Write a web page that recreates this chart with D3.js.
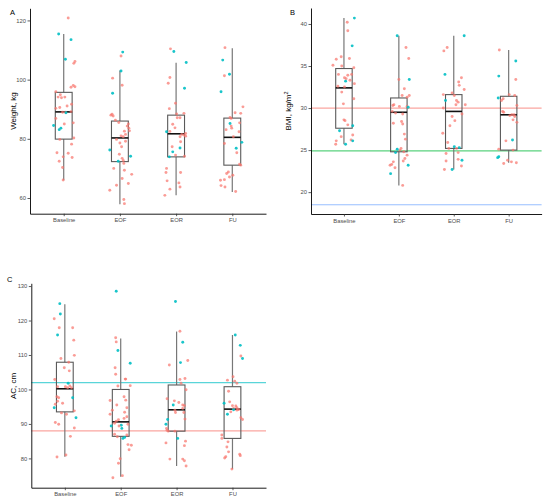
<!DOCTYPE html>
<html>
<head>
<meta charset="utf-8">
<script src="https://cdn.jsdelivr.net/npm/d3@7"></script>
<style>
  body { margin: 0; background: #fff; }
  text { font-family: "Liberation Sans", Arial, sans-serif; }
</style>
</head>
<body>
<div id="chart"></div>
<script>
// categories on the x axis (same for all three panels)
const categories = ["Baseline", "EOF", "EOR", "FU"];
const groupColors = ["#F8766D", "#00BFC4"];

// box stats per category: [lower whisker, q1, median, q3, upper whisker]
const weightBox = [[66.0, 79.9, 89.1, 95.7, 115.4], [57.9, 72.3, 80.3, 86.0, 103.1],
                   [60.9, 73.9, 81.7, 88.0, 105.7], [62.0, 71.1, 80.5, 87.0, 110.6]];
const bmiBox = [[25.7, 27.6, 32.4, 34.7, 40.7], [20.8, 24.8, 29.5, 31.2, 38.6],
                [22.7, 25.2, 29.6, 31.6, 38.6], [23.5, 25.0, 29.2, 31.4, 36.9]];
const acBox = [[80.5, 93.5, 100.2, 107.9, 124.7], [74.7, 86.4, 90.6, 100.0, 114.8],
               [77.8, 87.9, 94.1, 101.3, 116.8], [76.9, 85.8, 94.3, 100.8, 115.8]];

// jittered points: [category index, jitter (in category widths), value, group]
const weightPts = [
  [0,.08,120.8,0],[0,-.09,115.4,1],[0,.13,113.5,1],[0,.03,106.9,1],[0,.20,106.1,0],[0,.18,105.5,0],
  [0,.17,98.0,0],[0,.20,97.6,0],[0,.13,97.4,0],[0,-.14,95.9,0],[0,-.06,94.9,0],[0,-.10,94.1,0],
  [0,-.04,93.9,0],[0,.02,94.1,0],[0,.14,91.7,0],[0,.06,91.1,0],[0,-.14,90.3,0],[0,-.07,90.6,0],
  [0,-.02,89.0,0],[0,.03,89.0,0],[0,.04,88.8,1],[0,.13,89.2,0],[0,-.14,86.9,0],[0,.17,85.4,0],
  [0,-.18,84.5,1],[0,-.05,83.6,1],[0,-.08,83.1,1],[0,.01,85.0,0],[0,.18,80.3,0],[0,-.07,79.8,0],
  [0,.14,78.2,0],[0,-.12,75.3,0],[0,.08,75.1,0],[0,.15,73.7,0],[0,-.01,73.9,0],[0,-.08,72.4,0],
  [0,-.02,70.3,0],[0,-.01,66.1,0],
  [1,.05,109.3,1],[1,.02,108.0,0],[1,.02,102.9,1],[1,-.13,100.5,0],[1,.04,98.1,0],[1,-.13,95.4,1],
  [1,-.16,88.0,0],[1,-.14,88.3,0],[1,-.12,87.7,0],[1,-.08,86.3,0],[1,.15,85.0,0],[1,.13,84.3,0],
  [1,.16,83.6,0],[1,.08,82.6,0],[1,.17,82.7,0],[1,.02,81.0,0],[1,.06,80.7,0],[1,-.06,79.8,0],
  [1,.10,79.2,0],[1,.00,78.6,0],[1,.03,77.3,0],[1,-.18,76.2,1],[1,-.01,74.8,0],[1,.19,74.1,1],
  [1,.04,73.4,0],[1,.06,72.7,0],[1,-.03,72.4,1],[1,.07,71.7,0],[1,-.11,70.0,0],[1,.08,69.4,0],
  [1,.21,68.0,0],[1,.04,66.6,0],[1,.15,64.9,0],[1,-.06,64.3,0],[1,-.18,62.6,0],[1,.07,59.5,0],
  [1,.08,58.1,0],[1,-.02,85.5,0],[1,.10,81.5,0],
  [2,-.10,110.4,0],[2,-.04,109.5,1],[2,.18,105.8,1],[2,-.11,100.7,0],[2,-.14,98.8,0],[2,.15,97.1,1],
  [2,-.01,92.0,0],[2,-.12,90.2,0],[2,.01,88.4,0],[2,.07,87.1,0],[2,.02,87.1,0],[2,.14,88.6,0],
  [2,-.06,84.9,0],[2,-.02,83.7,0],[2,-.17,82.4,1],[2,-.11,82.5,0],[2,.10,81.5,0],[2,.14,81.3,0],
  [2,.17,81.8,0],[2,.17,80.9,0],[2,.07,80.7,0],[2,.08,79.0,0],[2,-.07,77.3,0],[2,.07,76.9,1],
  [2,-.06,75.6,1],[2,-.01,74.5,0],[2,-.12,73.9,1],[2,.15,74.1,0],[2,-.17,70.0,0],[2,-.18,68.6,0],
  [2,.08,68.6,0],[2,-.16,65.8,0],[2,.05,65.1,0],[2,.07,63.7,0],[2,-.11,63.0,0],[2,-.20,60.9,0],
  [3,-.13,110.8,0],[3,-.17,106.6,1],[3,-.14,101.3,0],[3,-.05,101.8,1],[3,-.20,95.9,1],[3,.19,90.8,0],
  [3,.05,88.8,0],[3,.15,88.6,0],[3,-.02,86.9,0],[3,-.04,87.2,0],[3,-.04,85.2,1],[3,.13,85.4,0],
  [3,-.02,84.3,0],[3,-.01,83.6,0],[3,-.11,83.1,0],[3,.12,82.4,0],[3,.02,80.7,0],[3,.17,78.8,1],
  [3,-.14,78.4,0],[3,.07,76.8,1],[3,.08,75.3,0],[3,.13,71.4,0],[3,.15,71.1,0],[3,-.07,68.8,0],
  [3,-.10,68.3,0],[3,.01,67.7,0],[3,-.05,67.1,0],[3,-.14,66.2,0],[3,-.21,66.0,0],[3,-.20,64.2,0],
  [3,-.13,63.7,0],[3,.06,62.2,0]
];

const bmiPts = [
  [0,.19,40.7,1],[0,.06,40.2,0],[0,.07,39.2,0],[0,.15,37.4,1],[0,.10,35.9,0],[0,-.05,36.1,0],
  [0,-.14,35.8,0],[0,-.20,35.1,0],[0,-.04,35.0,0],[0,.18,34.8,0],[0,.14,34.0,0],[0,-.10,34.0,0],
  [0,.01,33.6,0],[0,.07,33.9,0],[0,.04,33.5,0],[0,.03,33.2,1],[0,.11,33.3,0],[0,.19,32.9,0],
  [0,-.11,32.6,0],[0,.01,32.5,0],[0,-.04,31.9,0],[0,.18,31.1,0],[0,-.01,30.5,0],[0,.00,28.6,0],
  [0,.02,28.5,0],[0,.07,28.0,0],[0,.16,27.9,1],[0,-.08,27.3,1],[0,.16,26.8,0],[0,-.05,26.6,0],
  [0,.13,26.2,0],[0,-.14,26.1,0],[0,.16,26.1,1],[0,.03,25.7,1],[0,-.15,25.7,0],
  [1,-.03,38.6,1],[1,.13,37.2,0],[1,.18,35.9,0],[1,.19,33.4,1],[1,.00,33.4,0],[1,.10,32.3,0],
  [1,.19,31.5,0],[1,.06,31.5,0],[1,.15,31.3,0],[1,-.11,30.3,0],[1,-.09,30.4,0],[1,.01,30.2,0],
  [1,.15,30.2,0],[1,.17,30.1,1],[1,-.12,29.6,0],[1,-.06,29.4,0],[1,.07,29.3,0],[1,-.10,28.2,0],
  [1,.05,28.4,0],[1,.07,28.1,0],[1,.10,26.9,0],[1,.12,26.3,0],[1,.04,25.2,0],[1,.02,25.0,0],
  [1,-.06,24.7,1],[1,-.03,25.1,1],[1,.09,24.8,0],[1,.15,24.4,0],[1,.11,24.0,0],[1,.08,23.7,0],
  [1,-.10,23.6,0],[1,-.13,23.3,0],[1,-.16,23.2,0],[1,.17,23.2,1],[1,-.07,22.9,0],[1,-.15,22.2,1],
  [1,.07,20.8,0],
  [2,.19,38.6,1],[2,-.12,37.2,0],[2,-.18,36.8,0],[2,-.16,34.0,1],[2,.14,33.6,0],[2,.09,33.1,0],
  [2,.10,32.7,0],[2,.19,32.2,0],[2,-.19,31.6,0],[2,-.03,31.8,0],[2,.01,31.5,0],[2,-.15,30.9,1],
  [2,.05,30.9,0],[2,.08,30.7,0],[2,.04,30.4,0],[2,.21,30.4,0],[2,-.19,30.0,0],[2,.15,29.3,0],
  [2,-.03,29.0,0],[2,.02,28.5,0],[2,-.07,27.9,0],[2,-.20,27.0,0],[2,-.11,25.9,0],[2,.01,25.4,1],
  [2,.10,25.3,1],[2,-.09,25.2,0],[2,.05,25.2,0],[2,-.14,24.6,0],[2,.08,24.7,0],[2,.08,23.9,0],
  [2,-.14,23.7,0],[2,.15,23.8,1],[2,.14,23.1,0],[2,-.17,22.7,0],[2,-.03,22.7,1],
  [3,-.17,36.9,0],[3,.13,35.6,1],[3,-.18,33.8,1],[3,.13,33.4,0],[3,.01,31.6,0],[3,.11,31.5,0],
  [3,-.19,31.2,1],[3,-.13,30.9,0],[3,-.10,31.1,0],[3,.15,30.3,0],[3,-.11,29.6,0],[3,-.09,29.5,0],
  [3,.06,29.2,0],[3,.10,29.2,0],[3,.11,29.0,0],[3,.02,29.1,0],[3,.08,28.6,0],[3,.15,28.3,0],
  [3,-.05,26.1,0],[3,.07,26.2,1],[3,-.18,25.1,0],[3,.08,25.0,0],[3,-.20,24.1,1],[3,-.18,24.2,1],
  [3,-.02,23.8,0],[3,.05,23.6,0],[3,.14,23.5,0],[3,-.09,23.4,0]
];

const acPts = [
  [0,-.09,124.9,1],[0,-.08,121.9,1],[0,-.19,120.5,0],[0,-.10,117.9,0],[0,.14,117.9,0],[0,-.13,115.8,1],
  [0,.16,114.3,0],[0,.17,109.9,0],[0,-.07,109.0,0],[0,.07,107.9,0],[0,-.01,106.3,0],[0,.08,105.4,0],
  [0,-.18,102.9,0],[0,.06,101.8,1],[0,-.13,100.8,0],[0,.01,100.8,0],[0,.09,101.0,0],[0,.05,100.5,0],
  [0,.12,100.5,0],[0,-.14,97.9,0],[0,.14,97.6,1],[0,-.11,97.6,0],[0,-.13,96.6,0],[0,-.17,95.7,0],
  [0,-.04,96.0,0],[0,-.19,94.7,1],[0,-.06,93.2,0],[0,.17,93.8,0],[0,.03,92.8,0],[0,.20,91.8,1],
  [0,-.17,90.4,0],[0,-.11,89.9,0],[0,.17,88.8,0],[0,.10,86.4,0],[0,-.14,80.4,0],[0,.02,81.0,0],
  [1,-.08,128.5,1],[1,-.09,115.0,0],[1,-.08,113.8,0],[1,-.05,111.3,1],[1,.17,107.6,1],[1,-.10,106.3,0],
  [1,-.09,104.4,0],[1,.08,103.0,0],[1,.09,103.0,0],[1,.17,101.1,0],[1,-.05,101.0,0],[1,.06,97.9,0],
  [1,.09,96.9,0],[1,-.19,96.8,0],[1,-.07,95.5,0],[1,.11,94.7,0],[1,-.15,94.0,0],[1,.07,93.4,0],
  [1,-.19,92.8,0],[1,.11,92.1,0],[1,.06,91.6,0],[1,-.04,91.2,0],[1,-.08,90.8,0],[1,-.11,90.2,0],
  [1,-.17,89.4,1],[1,.01,89.6,1],[1,-.03,89.4,0],[1,.02,88.7,1],[1,.13,89.9,0],[1,-.11,87.0,0],
  [1,-.06,86.3,0],[1,.11,86.8,0],[1,.04,85.8,1],[1,.07,86.1,1],[1,.13,84.0,0],[1,.19,83.8,0],
  [1,.15,82.5,0],[1,-.01,79.9,0],[1,-.04,78.6,0],[1,.03,75.0,0],[1,-.14,74.4,0],
  [2,-.02,125.5,1],[2,.06,116.9,0],[2,.11,113.7,1],[2,.20,108.4,0],[2,.07,107.8,1],[2,-.13,107.1,0],
  [2,.06,102.9,0],[2,.15,103.2,0],[2,.08,101.8,0],[2,.17,99.9,0],[2,-.17,97.3,0],[2,-.04,96.7,0],
  [2,.04,96.2,0],[2,-.06,95.5,1],[2,.11,95.5,0],[2,.14,95.3,0],[2,.11,94.5,0],[2,-.03,94.0,0],
  [2,-.02,93.3,0],[2,.13,93.3,0],[2,.15,91.4,0],[2,-.16,91.3,1],[2,-.19,89.9,1],[2,-.18,88.7,0],
  [2,-.17,88.2,0],[2,-.15,87.9,0],[2,-.03,87.9,0],[2,.02,85.8,1],[2,.16,85.0,0],[2,-.19,84.5,0],
  [2,.14,83.7,0],[2,-.12,79.8,0],[2,.11,79.8,0],[2,.14,79.3,0],[2,.17,77.8,0],
  [3,.05,115.8,1],[3,.14,112.8,1],[3,.15,109.7,0],[3,.18,109.0,1],[3,-.09,102.7,0],[3,.01,103.7,0],
  [3,.04,102.4,0],[3,.08,101.8,0],[3,-.07,99.5,0],[3,-.05,96.4,0],[3,-.15,96.0,1],[3,.00,95.3,0],
  [3,.06,95.2,0],[3,.08,94.7,0],[3,.02,94.5,0],[3,.02,94.1,1],[3,.11,94.2,0],[3,.08,94.0,0],
  [3,-.03,93.5,0],[3,-.09,92.8,1],[3,.15,91.8,0],[3,.18,91.3,0],[3,-.19,86.8,0],[3,-.19,85.8,0],
  [3,-.08,84.8,0],[3,-.10,83.3,0],[3,-.07,81.9,0],[3,.13,81.2,0],[3,.14,80.8,0],[3,-.12,80.5,0],
  [3,-.14,80.1,0],[3,-.01,76.9,0]
];

// horizontal reference lines
const bmiRefs = [{v: 30, color: "#F8766D"}, {v: 24.9, color: "#00BA38"}, {v: 18.5, color: "#619CFF"}];
const acRefs = [{v: 102, color: "#00BFC4"}, {v: 88, color: "#F8766D"}];

// y axis ticks
const weightTicks = [60, 80, 100, 120];
const bmiTicks = [20, 25, 30, 35, 40];
const acTicks = [80, 90, 100, 110, 120, 130];

const svg = d3.select("#chart").append("svg")
    .attr("width", 550)
    .attr("height", 501);

function drawPanel(p) {
    let x = d3.scalePoint().domain(categories).range([p.left, p.right]).padding(0.6);
    let y = d3.scaleLinear().domain(p.domain).range([p.bottom, p.top]);
    let step = x.step();
    let boxW = step * 0.3;
    let g = svg.append("g");

    // reference lines
    g.selectAll("line.ref").data(p.refs).join("line")
        .attr("class", "ref")
        .attr("x1", p.left).attr("x2", p.right)
        .attr("y1", d => y(d.v)).attr("y2", d => y(d.v))
        .attr("stroke", d => d.color)
        .attr("stroke-opacity", 0.65)
        .attr("stroke-width", 1.2);

    // boxplots
    let boxes = g.selectAll("g.box").data(p.box).join("g").attr("class", "box");
    boxes.append("line")
        .attr("x1", (d, i) => x(categories[i])).attr("x2", (d, i) => x(categories[i]))
        .attr("y1", d => y(d[4])).attr("y2", d => y(d[3]))
        .attr("stroke", "#777").attr("stroke-width", 1.2);
    boxes.append("line")
        .attr("x1", (d, i) => x(categories[i])).attr("x2", (d, i) => x(categories[i]))
        .attr("y1", d => y(d[1])).attr("y2", d => y(d[0]))
        .attr("stroke", "#777").attr("stroke-width", 1.2);
    boxes.append("rect")
        .attr("x", (d, i) => x(categories[i]) - boxW / 2)
        .attr("width", boxW)
        .attr("y", d => y(d[3]))
        .attr("height", d => y(d[1]) - y(d[3]))
        .attr("fill", "none")
        .attr("stroke", "#5a5a5a").attr("stroke-width", 1.1);
    boxes.append("line")
        .attr("x1", (d, i) => x(categories[i]) - boxW / 2)
        .attr("x2", (d, i) => x(categories[i]) + boxW / 2)
        .attr("y1", d => y(d[2])).attr("y2", d => y(d[2]))
        .attr("stroke", "#111").attr("stroke-width", 1.6);

    // jittered points
    g.selectAll("circle").data(p.pts).join("circle")
        .attr("cx", d => x(categories[d[0]]) + d[1] * step)
        .attr("cy", d => y(d[2]))
        .attr("r", 1.45)
        .attr("fill", d => groupColors[d[3]])
        .attr("fill-opacity", d => d[3] === 0 ? 0.72 : 0.9);

    // axes
    let yAxis = d3.axisLeft(y).tickValues(p.ticks).tickSize(2.5).tickSizeOuter(0).tickPadding(1.5);
    let yAx = g.append("g").attr("transform", "translate(" + p.left + ",0)").call(yAxis);
    let xAxis = d3.axisBottom(x).tickSize(2.5).tickSizeOuter(0).tickPadding(2);
    let xAx = g.append("g").attr("transform", "translate(0," + p.bottom + ")").call(xAxis);
    [yAx, xAx].forEach(ax => {
        ax.select(".domain").attr("stroke", "#000").attr("stroke-width", 0.9);
        ax.selectAll(".tick line").attr("stroke", "#333").attr("stroke-width", 0.8);
        ax.selectAll(".tick text").attr("fill", "#4D4D4D")
            .style("font-size", "5.8px").style("font-family", "'Liberation Sans', Arial, sans-serif");
    });

    // y axis title
    let title = g.append("text")
        .attr("transform", "translate(" + p.titleX + "," + p.titleY + ") rotate(-90)")
        .attr("text-anchor", "middle")
        .style("font-size", "8px")
        .attr("fill", "#000");
    title.append("tspan").text(p.title);
    if (p.titleSup) {
        title.append("tspan").text(p.titleSup).attr("dy", "-3").style("font-size", "5.5px");
    }

    // panel tag
    g.append("text")
        .attr("x", p.tagX).attr("y", p.tagY)
        .style("font-size", "7.5px")
        .attr("fill", "#000")
        .text(p.tag);
}

drawPanel({pts: weightPts, box: weightBox, refs: [], ticks: weightTicks, domain: [54.7, 124.1],
    left: 30, right: 266, top: 8.3, bottom: 213.7,
    title: "Weight, kg", titleX: 16, titleY: 111, tag: "A", tagX: 10, tagY: 15});
drawPanel({pts: bmiPts, box: bmiBox, refs: bmiRefs, ticks: bmiTicks, domain: [17.4, 41.9],
    left: 311, right: 541.6, top: 8, bottom: 214,
    title: "BMI, kg/m", titleSup: "2", titleX: 291, titleY: 111, tag: "B", tagX: 290, tagY: 15});
drawPanel({pts: acPts, box: acBox, refs: acRefs, ticks: acTicks, domain: [71.5, 130.8],
    left: 31.3, right: 266, top: 283.3, bottom: 487.7,
    title: "AC, cm", titleX: 15.5, titleY: 386, tag: "C", tagX: 7, tagY: 282});
</script>
</body>
</html>
